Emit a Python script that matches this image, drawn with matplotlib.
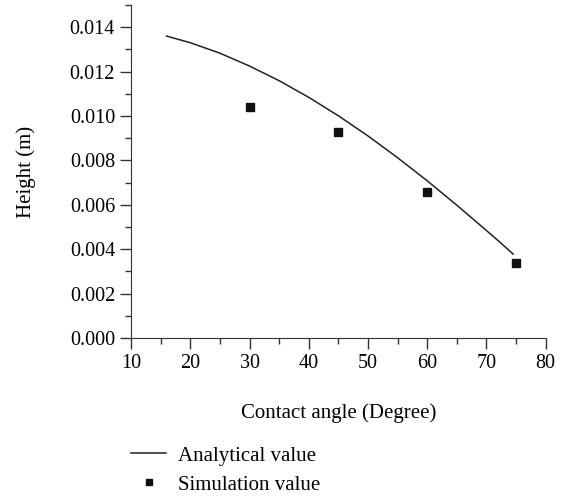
import matplotlib
matplotlib.use('Agg')
import matplotlib.pyplot as plt
from matplotlib.ticker import MultipleLocator, FormatStrFormatter

plt.rcParams['font.family'] = ['Liberation Serif', 'DejaVu Serif']
plt.rcParams['font.size'] = 14

# analytical curve
angle_line = [16, 20, 25, 30, 35, 40, 45, 50, 55, 60, 65, 70, 72.5, 74.5]
height_line = [0.01360, 0.01330, 0.01283, 0.01225, 0.01159, 0.01084, 0.01001,
               0.00910, 0.00812, 0.00708, 0.00598, 0.00484, 0.00426, 0.00378]

# simulation points
angle_sim = [30, 45, 60, 75]
height_sim = [0.01040, 0.00927, 0.00656, 0.00340]

fig = plt.figure(figsize=(5.64, 4.98), dpi=100)
ax = fig.add_axes([0.2323, 0.3213, 0.7353, 0.6687])

ax.plot(angle_line, height_line, color='#222222', lw=1.1, label='Analytical value')
ax.plot(angle_sim, height_sim, ls='none', marker='s', ms=5.5, color='#111111',
        label='Simulation value')

ax.set_xlim(10, 80)
ax.set_ylim(0, 0.015)
ax.xaxis.set_major_locator(MultipleLocator(10))
ax.xaxis.set_minor_locator(MultipleLocator(5))
ax.yaxis.set_major_locator(MultipleLocator(0.002))
ax.yaxis.set_minor_locator(MultipleLocator(0.001))
ax.yaxis.set_major_formatter(FormatStrFormatter('%.3f'))
ax.tick_params(which='major', direction='out', length=8, width=1, color='#333333',
               labelsize=14.5)
ax.tick_params(which='minor', direction='out', length=4, width=1, color='#333333')
ax.spines['top'].set_visible(False)
ax.spines['right'].set_visible(False)
for s in ['left', 'bottom']:
    ax.spines[s].set_color('#333333')

ax.set_xlabel('Contact angle (Degree)', fontsize=15, labelpad=22)
ax.set_ylabel('Height (m)', fontsize=15, labelpad=24)

fig.legend(loc='upper left', bbox_to_anchor=(0.2323, 0.104), frameon=False,
           fontsize=15, handlelength=1.7, handletextpad=0.55, labelspacing=0.45,
           borderaxespad=0, borderpad=0, markerscale=0.85)

fig.savefig('out.png', dpi=100)
